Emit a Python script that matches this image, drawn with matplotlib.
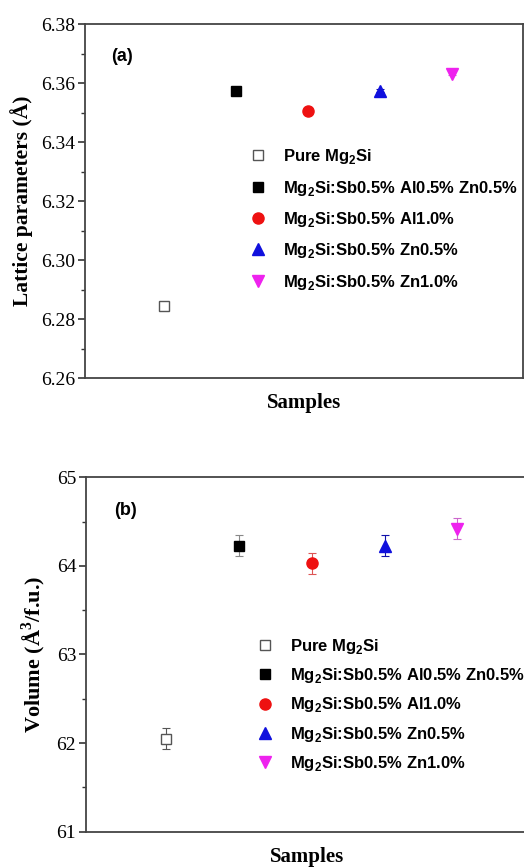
import matplotlib
matplotlib.use("Agg")
import matplotlib.pyplot as plt
from matplotlib.ticker import MultipleLocator, FormatStrFormatter
from matplotlib.lines import Line2D

samples = ["Pure Mg$_\\mathbf{2}$Si",
           "Mg$_\\mathbf{2}$Si:Sb0.5% Al0.5% Zn0.5%",
           "Mg$_\\mathbf{2}$Si:Sb0.5% Al1.0%",
           "Mg$_\\mathbf{2}$Si:Sb0.5% Zn0.5%",
           "Mg$_\\mathbf{2}$Si:Sb0.5% Zn1.0%"]
x_pos = [1, 2, 3, 4, 5]
lattice = [6.2845, 6.3575, 6.3507, 6.3575, 6.3633]
lattice_err = [0.0008, 0.0005, 0.0005, 0.0005, 0.0005]
volume = [62.05, 64.23, 64.03, 64.23, 64.42]
volume_err = [0.12, 0.12, 0.12, 0.12, 0.12]

markers = ["s", "s", "o", "^", "v"]
colors = ["#555555", "black", "#ee1111", "#1010dd", "#ee22ee"]
faces = ["white", "black", "#ee1111", "#1010dd", "#ee22ee"]
sizes = [6.5, 7, 8, 8, 8]
ecolors = ["#555555", "#888888", "#dd5555", "#1010aa", "#cc66cc"]

plt.rcParams['mathtext.fontset'] = 'custom'
plt.rcParams['mathtext.bf'] = 'Liberation Sans:bold'
plt.rcParams['mathtext.rm'] = 'Liberation Serif:bold'

fig = plt.figure(figsize=(5.24, 8.67), dpi=100)
ax1 = fig.add_axes([0.162, 0.564, 0.836, 0.408])
ax2 = fig.add_axes([0.164, 0.0407, 0.845, 0.4088])

serif = "Liberation Serif"

def style(ax, ylim, major, minor):
    ax.set_xlim(-0.1, 5.98)
    ax.set_ylim(*ylim)
    ax.set_xticks([])
    ax.yaxis.set_major_locator(MultipleLocator(major))
    ax.yaxis.set_minor_locator(MultipleLocator(minor))
    ax.tick_params(axis='y', which='major', direction='out', length=5, width=1.2,
                   labelsize=14, color='#333333', pad=2)
    ax.tick_params(axis='y', which='minor', direction='out', length=3, width=1.0,
                   color='#333333')
    for lab in ax.get_yticklabels():
        lab.set_fontfamily(serif)
    for s in ax.spines.values():
        s.set_linewidth(1.3)
        s.set_color('#444444')

for i in range(5):
    for ax, vals, errs in [(ax1, lattice, lattice_err), (ax2, volume, volume_err)]:
        ax.errorbar(x_pos[i], vals[i], yerr=errs[i], fmt=markers[i],
                    color=colors[i], mfc=faces[i], mec=colors[i], ms=sizes[i],
                    ecolor=ecolors[i], elinewidth=0.8, capsize=3, capthick=0.8)

style(ax1, (6.26, 6.38), 0.02, 0.01)
style(ax2, (61, 65), 1, 0.5)
ax1.yaxis.set_major_formatter(FormatStrFormatter('%.2f'))

ax1.set_ylabel("Lattice parameters (Å)", fontfamily=serif, fontsize=15.5,
               fontweight='bold', labelpad=6)
ax2.set_ylabel("Volume (Å$^{\\mathregular{3}}$/f.u.)", fontfamily=serif, fontsize=16,
               fontweight='bold', labelpad=6)
ax1.set_xlabel("Samples", fontfamily=serif, fontsize=15, fontweight='bold', labelpad=11)
ax2.set_xlabel("Samples", fontfamily=serif, fontsize=15, fontweight='bold', labelpad=11)

ax1.text(0.06, 0.91, "(a)", transform=ax1.transAxes, fontfamily="Liberation Sans",
         fontsize=13, fontweight='bold', va='center')
ax2.text(0.063, 0.905, "(b)", transform=ax2.transAxes, fontfamily="Liberation Sans",
         fontsize=13, fontweight='bold', va='center')

handles = [Line2D([], [], ls='none', marker=markers[i], color=colors[i],
                  mfc=faces[i], mec=colors[i], ms=sizes[i]) for i in range(5)]

for ax, loc, sp in [(ax1, (0.373, 0.6525), 0.74), (ax2, (0.381, 0.55), 0.62)]:
    ax.legend(handles, samples, loc='upper left', bbox_to_anchor=loc, frameon=False,
              prop={'family': 'Liberation Sans', 'weight': 'bold', 'size': 12},
              handletextpad=0.9, labelspacing=sp, handlelength=1.2,
              borderaxespad=0, borderpad=0)

fig.savefig("out.png", dpi=100)
